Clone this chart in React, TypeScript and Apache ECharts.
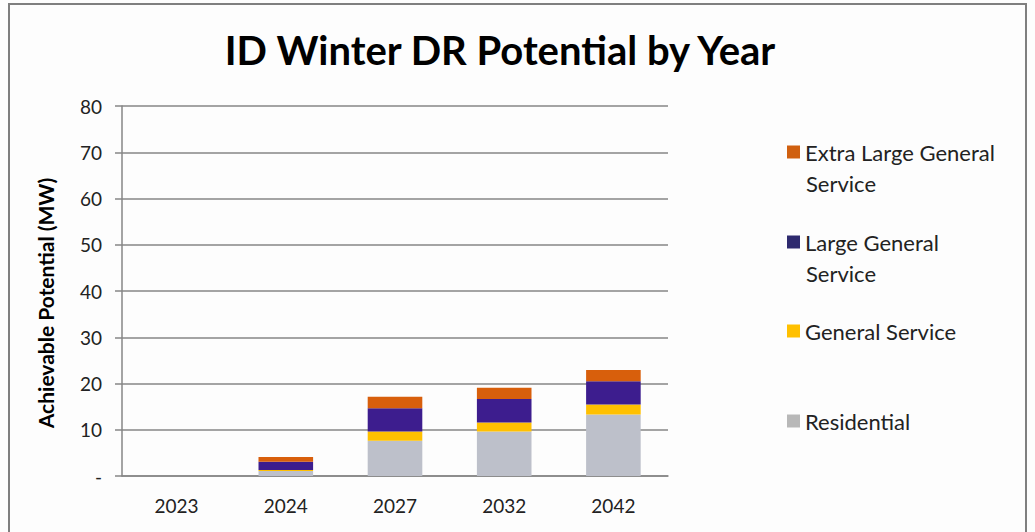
import React, { useEffect, useRef } from "react";
import * as echarts from "echarts";

const years = ["2023", "2024", "2027", "2032", "2042"];
const residential = [0, 1.1, 7.6, 9.6, 13.3];
const generalService = [0, 0.2, 2.0, 1.95, 2.15];
const largeGeneral = [0, 1.8, 5.05, 5.1, 5.05];
const extraLargeGeneral = [0, 1.0, 2.5, 2.45, 2.4];

const seriesNames = ["Residential", "General Service", "Large General Service", "Extra Large General Service"];
const seriesColors = ["#BDC0CA", "#FFC000", "#3D1D8E", "#D85F0C"];
const legendIconColors = ["#B8B8B8", "#FFC000", "#2E2A6E", "#D06010"];

const FONT = "Lato";

export default function App() {
  const ref = useRef<HTMLDivElement>(null);
  useEffect(() => {
    if (!ref.current) return;
    const chart = echarts.init(ref.current, undefined, { renderer: "svg" });
    const values = [residential, generalService, largeGeneral, extraLargeGeneral];
    const legendLayout = [
      { name: seriesNames[3], first: "Extra Large General", second: "Service", top: 136 },
      { name: seriesNames[2], first: "Large General", second: "Service", top: 226 },
      { name: seriesNames[1], first: "General Service", second: "", top: 315 },
      { name: seriesNames[0], first: "Residential", second: "", top: 405 },
    ];
    chart.setOption({
      animation: false,
      backgroundColor: "#FDFDFD",
      title: {
        text: "ID Winter DR Potential by Year",
        left: 495,
        top: 25,
        textAlign: "center",
        textStyle: { fontFamily: FONT, fontSize: 40, fontWeight: "bold", color: "#000" },
      },
      legend: legendLayout.map((l) => ({
        data: [{ name: l.name, itemStyle: { color: legendIconColors[seriesNames.indexOf(l.name)] } }],
        left: 782,
        top: l.top,
        itemWidth: 13,
        itemHeight: 13,
        itemGap: 0,
        icon: "rect",
        selectedMode: false,
        formatter: () => l.first,
        textStyle: { fontFamily: FONT, fontSize: 22, color: "#222", padding: [0, 0, 0, 0] },
      })),
      graphic: [
        {
          type: "rect",
          shape: { x: 9, y: 4, width: 1017, height: 540 },
          style: { fill: "none", stroke: "#7F7F7F", lineWidth: 2 },
          silent: true,
        },
        ...legendLayout
          .filter((l) => l.second)
          .map((l) => ({
            type: "text",
            left: 806,
            top: l.top + 36,
            style: { text: l.second, fontFamily: FONT, fontSize: 22, fill: "#222" },
          })),
      ],
      grid: { left: 122, right: 367, top: 106, bottom: 56 },
      xAxis: {
        type: "category",
        data: years,
        axisLine: { show: true, lineStyle: { color: "#868686", width: 1.5 } },
        axisTick: { show: false },
        axisLabel: { fontFamily: FONT, fontSize: 19, color: "#222", margin: 20 },
      },
      yAxis: {
        type: "value",
        min: 0,
        max: 80,
        interval: 10,
        name: "Achievable Potential (MW)",
        nameLocation: "middle",
        nameGap: 66,
        nameTextStyle: {
          fontFamily: FONT,
          fontSize: 21,
          fontWeight: "bold",
          color: "#000",
          padding: [0, 24, 0, 0],
        },
        axisLine: { show: true, lineStyle: { color: "#868686", width: 1.5 } },
        axisTick: { show: true, length: 7, lineStyle: { color: "#868686", width: 1.5 } },
        splitLine: { show: true, lineStyle: { color: "#868686", width: 1.5 } },
        axisLabel: {
          fontFamily: FONT,
          fontSize: 19,
          color: "#222",
          margin: 20,
          formatter: (v: number) => (v === 0 ? "-" : String(v)),
        },
      },
      series: seriesNames.map((name, i) => ({
        name,
        type: "bar",
        stack: "total",
        data: values[i],
        barWidth: "50%",
        itemStyle: { color: seriesColors[i] },
      })),
    });
    return () => chart.dispose();
  }, []);
  return (
    <div
      ref={ref}
      style={{ position: "fixed", left: 0, top: 0, width: 1035, height: 532 }}
    />
  );
}
